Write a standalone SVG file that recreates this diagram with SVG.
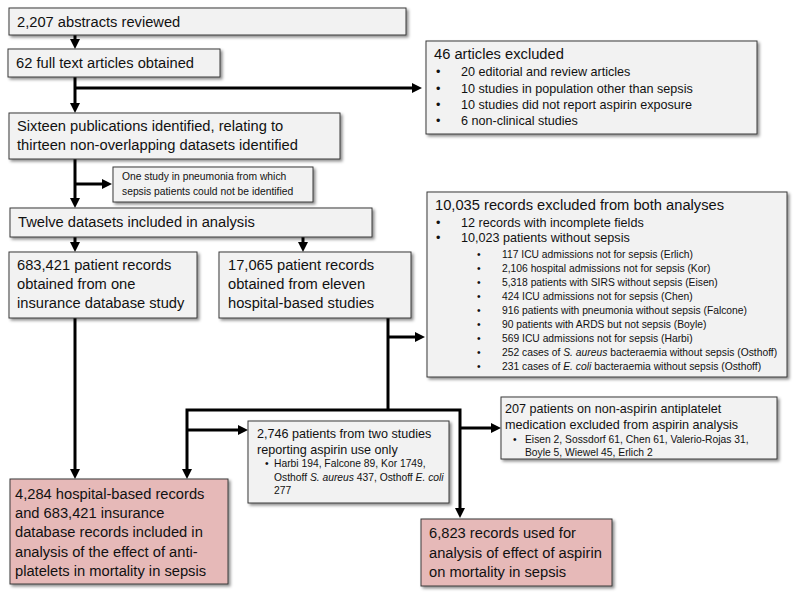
<svg xmlns="http://www.w3.org/2000/svg" width="800" height="599" viewBox="0 0 800 599">
<defs>
<filter id="sh" x="-10%" y="-10%" width="120%" height="130%">
<feDropShadow dx="2" dy="2" stdDeviation="1.5" flood-color="#000" flood-opacity="0.45"/>
</filter>
<marker id="ah" viewBox="0 0 10 10" refX="3" refY="5" markerWidth="10" markerHeight="10" markerUnits="userSpaceOnUse" orient="auto-start-reverse">
<path d="M0,0 L10,5 L0,10 z" fill="#000"/>
</marker>
</defs>
<style>
.g{fill:#f2f2f2;stroke:#3a3a3a;stroke-width:1;filter:url(#sh)}
.p{fill:#e6b9b8;stroke:#3a3a3a;stroke-width:1;filter:url(#sh)}
text{font-family:"Liberation Sans",Arial,sans-serif;fill:#111}
.m{font-size:14.7px}
.b{font-size:12.6px}
.s{font-size:10.3px}
.c{fill:none;stroke:#000;stroke-width:3;marker-end:url(#ah)}
.l{fill:none;stroke:#000;stroke-width:3}
</style>
<rect width="800" height="599" fill="#fff"/>
<g id="connectors">
<path class="c" d="M75,35 V42"/>
<path class="l" d="M75,77 V88"/>
<path class="c" d="M75,88 V106"/>
<path class="c" d="M75,88 H415"/>
<path class="l" d="M75,159 V184"/>
<path class="c" d="M75,184 V201"/>
<path class="c" d="M75,184 H105"/>
<path class="c" d="M75,237 V245"/>
<path class="c" d="M303,237 V245"/>
<path class="c" d="M75,318 V472"/>
<path class="l" d="M388,318 V410"/>
<path class="c" d="M388,337 H418"/>
<path class="c" style="marker-start:url(#ah)" d="M187,472 V410 H460 V511"/>
<path class="c" d="M187,430 H241"/>
<path class="c" d="M460,428 H494"/>
</g>
<g id="n1">
<rect class="g" x="9" y="8" width="397" height="27"/>
<text class="m" x="17" y="27">2,207 abstracts reviewed</text>
</g>
<g id="n2">
<rect class="g" x="8" y="49" width="212" height="28"/>
<text class="m" x="16" y="68">62 full text articles obtained</text>
</g>
<g id="n3">
<rect class="g" x="426" y="41" width="331" height="93"/>
<text class="m" x="434" y="59">46 articles excluded</text>
<g class="b">
<text x="436" y="76">•</text><text x="461" y="76">20 editorial and review articles</text>
<text x="436" y="93">•</text><text x="461" y="93">10 studies in population other than sepsis</text>
<text x="436" y="109">•</text><text x="461" y="109">10 studies did not report aspirin exposure</text>
<text x="436" y="125">•</text><text x="461" y="125">6 non-clinical studies</text>
</g>
</g>
<g id="n4">
<rect class="g" x="9" y="113" width="331" height="46"/>
<text class="m" x="17" y="131">Sixteen publications identified, relating to</text>
<text class="m" x="17" y="150">thirteen non-overlapping datasets identified</text>
</g>
<g id="n5">
<rect class="g" x="113" y="167" width="200" height="35"/>
<text class="s" x="122" y="180">One study in pneumonia from which</text>
<text class="s" x="122" y="195">sepsis patients could not be identified</text>
</g>
<g id="n6">
<rect class="g" x="10" y="208" width="362" height="29"/>
<text class="m" x="18" y="227">Twelve datasets included in analysis</text>
</g>
<g id="n7">
<rect class="g" x="9" y="252" width="188" height="66"/>
<text class="m" x="17" y="270">683,421 patient records</text>
<text class="m" x="17" y="289">obtained from one</text>
<text class="m" x="17" y="308">insurance database study</text>
</g>
<g id="n8">
<rect class="g" x="219" y="252" width="192" height="66"/>
<text class="m" x="228" y="270">17,065 patient records</text>
<text class="m" x="228" y="289">obtained from eleven</text>
<text class="m" x="228" y="308">hospital-based studies</text>
</g>
<g id="n9">
<rect class="g" x="427" y="192" width="360" height="185"/>
<text class="m" x="435" y="210">10,035 records excluded from both analyses</text>
<g class="b">
<text x="436" y="227">•</text><text x="461" y="227">12 records with incomplete fields</text>
<text x="436" y="242">•</text><text x="461" y="242">10,023 patients without sepsis</text>
</g>
<g class="s">
<text x="477" y="258">•</text><text x="502" y="258">117 ICU admissions not for sepsis (Erlich)</text>
<text x="477" y="272">•</text><text x="502" y="272">2,106 hospital admissions not for sepsis (Kor)</text>
<text x="477" y="286">•</text><text x="502" y="286">5,318 patients with SIRS without sepsis (Eisen)</text>
<text x="477" y="300">•</text><text x="502" y="300">424 ICU admissions not for sepsis (Chen)</text>
<text x="477" y="314">•</text><text x="502" y="314">916 patients with pneumonia without sepsis (Falcone)</text>
<text x="477" y="328">•</text><text x="502" y="328">90 patients with ARDS but not sepsis (Boyle)</text>
<text x="477" y="342">•</text><text x="502" y="342">569 ICU admissions not for sepsis (Harbi)</text>
<text x="477" y="356">•</text><text x="502" y="356">252 cases of <tspan font-style="italic">S. aureus</tspan> bacteraemia without sepsis (Osthoff)</text>
<text x="477" y="370">•</text><text x="502" y="370">231 cases of <tspan font-style="italic">E. coli</tspan> bacteraemia without sepsis (Osthoff)</text>
</g>
</g>
<g id="n10">
<rect class="g" x="248" y="421" width="201" height="82"/>
<text class="b" x="257" y="438">2,746 patients from two studies</text>
<text class="b" x="257" y="454">reporting aspirin use only</text>
<g class="s">
<text x="265" y="467">•</text><text x="274" y="467">Harbi 194, Falcone 89, Kor 1749,</text>
<text x="274" y="481">Osthoff <tspan font-style="italic">S. aureus</tspan> 437, Osthoff <tspan font-style="italic">E. coli</tspan></text>
<text x="274" y="494">277</text>
</g>
</g>
<g id="n11">
<rect class="g" x="501" y="397" width="276" height="62"/>
<text class="b" x="505" y="413">207 patients on non-aspirin antiplatelet</text>
<text class="b" x="505" y="429">medication excluded from aspirin analysis</text>
<g class="s">
<text x="513" y="443">•</text><text x="525" y="443">Eisen 2, Sossdorf 61, Chen 61, Valerio-Rojas 31,</text>
<text x="525" y="456">Boyle 5, Wiewel 45, Erlich 2</text>
</g>
</g>
<g id="n12">
<rect class="p" x="10" y="479" width="218" height="105"/>
<text class="m" x="15" y="499">4,284 hospital-based records</text>
<text class="m" x="15" y="518">and 683,421 insurance</text>
<text class="m" x="15" y="537">database records included in</text>
<text class="m" x="15" y="557">analysis of the effect of anti-</text>
<text class="m" x="15" y="576">platelets in mortality in sepsis</text>
</g>
<g id="n13">
<rect class="p" x="421" y="519" width="191" height="67"/>
<text class="m" x="429" y="538">6,823 records used for</text>
<text class="m" x="429" y="558">analysis of effect of aspirin</text>
<text class="m" x="429" y="577">on mortality in sepsis</text>
</g>
</svg>
